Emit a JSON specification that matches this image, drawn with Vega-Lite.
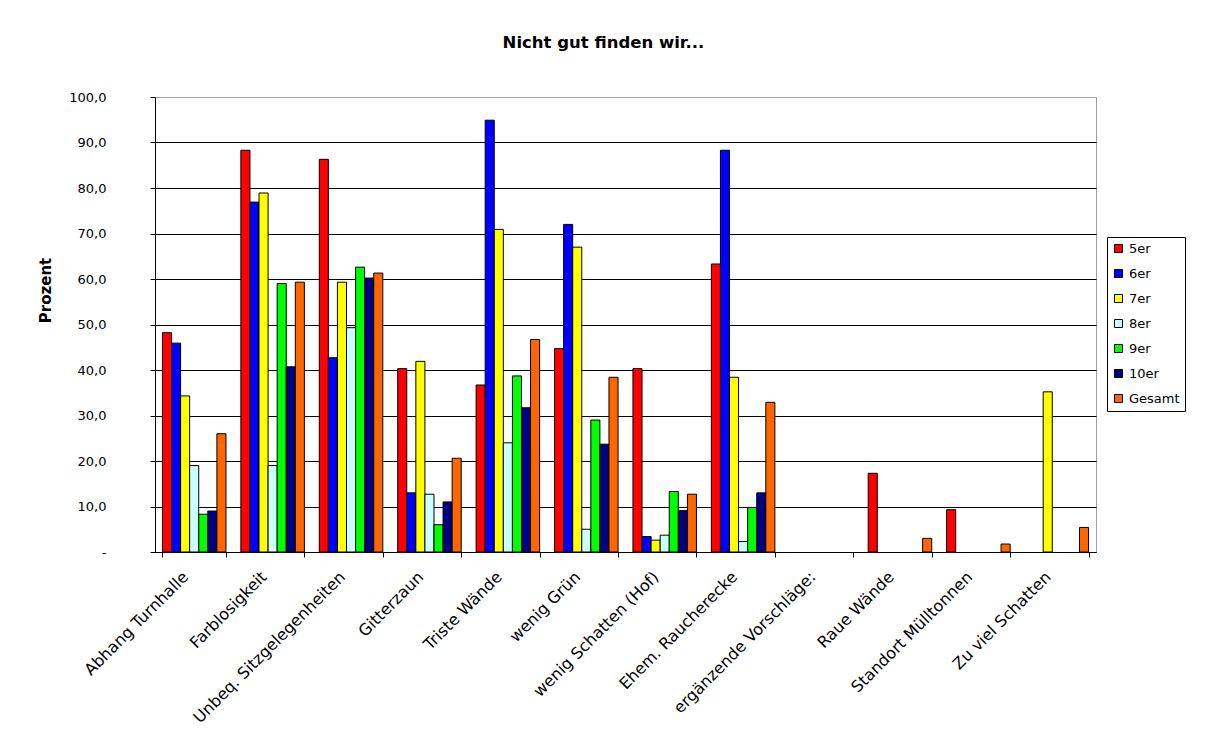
{
  "$schema": "https://vega.github.io/schema/vega-lite/v6.json",
  "width": 941,
  "height": 455,
  "autosize": "none",
  "padding": {"left": 155, "top": 97, "right": 109, "bottom": 181},
  "background": "white",
  "config": {
    "font": "DejaVu Sans",
    "view": {"stroke": "#a0a0a0", "strokeWidth": 1}
  },
  "title": {
    "text": "Nicht gut finden wir...",
    "font": "DejaVu Sans",
    "fontSize": 16.5,
    "fontWeight": "bold",
    "color": "black",
    "anchor": "middle",
    "dx": -22,
    "offset": 40
  },
  "data": {
    "values": [
      {"k": "Abhang Turnhalle", "s": "5er", "v": 48.2},
      {"k": "Abhang Turnhalle", "s": "6er", "v": 45.9},
      {"k": "Abhang Turnhalle", "s": "7er", "v": 34.3},
      {"k": "Abhang Turnhalle", "s": "8er", "v": 19.0},
      {"k": "Abhang Turnhalle", "s": "9er", "v": 8.3},
      {"k": "Abhang Turnhalle", "s": "10er", "v": 9.0},
      {"k": "Abhang Turnhalle", "s": "Gesamt", "v": 26.0},
      {"k": "Farblosigkeit", "s": "5er", "v": 88.3},
      {"k": "Farblosigkeit", "s": "6er", "v": 76.9},
      {"k": "Farblosigkeit", "s": "7er", "v": 78.9},
      {"k": "Farblosigkeit", "s": "8er", "v": 19.0},
      {"k": "Farblosigkeit", "s": "9er", "v": 59.0},
      {"k": "Farblosigkeit", "s": "10er", "v": 40.7},
      {"k": "Farblosigkeit", "s": "Gesamt", "v": 59.3},
      {"k": "Unbeq. Sitzgelegenheiten", "s": "5er", "v": 86.3},
      {"k": "Unbeq. Sitzgelegenheiten", "s": "6er", "v": 42.7},
      {"k": "Unbeq. Sitzgelegenheiten", "s": "7er", "v": 59.3},
      {"k": "Unbeq. Sitzgelegenheiten", "s": "8er", "v": 49.3},
      {"k": "Unbeq. Sitzgelegenheiten", "s": "9er", "v": 62.6},
      {"k": "Unbeq. Sitzgelegenheiten", "s": "10er", "v": 60.2},
      {"k": "Unbeq. Sitzgelegenheiten", "s": "Gesamt", "v": 61.3},
      {"k": "Gitterzaun", "s": "5er", "v": 40.3},
      {"k": "Gitterzaun", "s": "6er", "v": 13.0},
      {"k": "Gitterzaun", "s": "7er", "v": 41.9},
      {"k": "Gitterzaun", "s": "8er", "v": 12.7},
      {"k": "Gitterzaun", "s": "9er", "v": 6.0},
      {"k": "Gitterzaun", "s": "10er", "v": 11.0},
      {"k": "Gitterzaun", "s": "Gesamt", "v": 20.6},
      {"k": "Triste Wände", "s": "5er", "v": 36.7},
      {"k": "Triste Wände", "s": "6er", "v": 94.9},
      {"k": "Triste Wände", "s": "7er", "v": 70.9},
      {"k": "Triste Wände", "s": "8er", "v": 24.0},
      {"k": "Triste Wände", "s": "9er", "v": 38.7},
      {"k": "Triste Wände", "s": "10er", "v": 31.7},
      {"k": "Triste Wände", "s": "Gesamt", "v": 46.7},
      {"k": "wenig Grün", "s": "5er", "v": 44.7},
      {"k": "wenig Grün", "s": "6er", "v": 72.0},
      {"k": "wenig Grün", "s": "7er", "v": 67.0},
      {"k": "wenig Grün", "s": "8er", "v": 5.0},
      {"k": "wenig Grün", "s": "9er", "v": 29.0},
      {"k": "wenig Grün", "s": "10er", "v": 23.7},
      {"k": "wenig Grün", "s": "Gesamt", "v": 38.4},
      {"k": "wenig Schatten (Hof)", "s": "5er", "v": 40.3},
      {"k": "wenig Schatten (Hof)", "s": "6er", "v": 3.4},
      {"k": "wenig Schatten (Hof)", "s": "7er", "v": 2.6},
      {"k": "wenig Schatten (Hof)", "s": "8er", "v": 3.7},
      {"k": "wenig Schatten (Hof)", "s": "9er", "v": 13.3},
      {"k": "wenig Schatten (Hof)", "s": "10er", "v": 9.1},
      {"k": "wenig Schatten (Hof)", "s": "Gesamt", "v": 12.7},
      {"k": "Ehem. Raucherecke", "s": "5er", "v": 63.3},
      {"k": "Ehem. Raucherecke", "s": "6er", "v": 88.3},
      {"k": "Ehem. Raucherecke", "s": "7er", "v": 38.4},
      {"k": "Ehem. Raucherecke", "s": "8er", "v": 2.3},
      {"k": "Ehem. Raucherecke", "s": "9er", "v": 9.8},
      {"k": "Ehem. Raucherecke", "s": "10er", "v": 13.0},
      {"k": "Ehem. Raucherecke", "s": "Gesamt", "v": 32.9},
      {"k": "Raue Wände", "s": "5er", "v": 17.3},
      {"k": "Raue Wände", "s": "Gesamt", "v": 3.0},
      {"k": "Standort Mülltonnen", "s": "5er", "v": 9.3},
      {"k": "Standort Mülltonnen", "s": "Gesamt", "v": 1.75},
      {"k": "Zu viel Schatten", "s": "7er", "v": 35.2},
      {"k": "Zu viel Schatten", "s": "Gesamt", "v": 5.4}
    ]
  },
  "mark": {"type": "bar", "stroke": "black", "strokeWidth": 1, "opacity": 1},
  "encoding": {
    "x": {
      "field": "k",
      "type": "nominal",
      "sort": null,
      "scale": {
        "domain": ["Abhang Turnhalle", "Farblosigkeit", "Unbeq. Sitzgelegenheiten", "Gitterzaun", "Triste Wände", "wenig Grün", "wenig Schatten (Hof)", "Ehem. Raucherecke", "ergänzende Vorschläge:", "Raue Wände", "Standort Mülltonnen", "Zu viel Schatten"],
        "paddingInner": 0.19,
        "paddingOuter": 0.095
      },
      "axis": {
        "title": null,
        "labelAngle": -45,
        "labelAlign": "right",
        "labelBaseline": "middle",
        "labelFont": "DejaVu Sans",
        "labelFontSize": 16,
        "labelColor": "black",
        "labelPadding": 17,
        "labelOffset": -9,
        "labelLimit": 400,
        "labelOverlap": false,
        "labelFlush": false,
        "tickBand": "extent",
        "tickColor": "black",
        "tickSize": 5,
        "domainColor": "black",
        "grid": false
      }
    },
    "xOffset": {
      "field": "s",
      "type": "nominal",
      "sort": null,
      "scale": {"domain": ["5er", "6er", "7er", "8er", "9er", "10er", "Gesamt"], "paddingInner": 0, "paddingOuter": 0}
    },
    "y": {
      "field": "v",
      "type": "quantitative",
      "scale": {"domain": [0, 100], "nice": false},
      "axis": {
        "title": "Prozent",
        "titleFont": "DejaVu Sans",
        "titleFontSize": 15,
        "titleFontWeight": "bold",
        "titleColor": "black",
        "titleAngle": -90,
        "titleAlign": "center",
        "titleBaseline": "middle",
        "titleX": -110,
        "titleY": 193,
        "values": [0, 10, 20, 30, 40, 50, 60, 70, 80, 90, 100],
        "labelExpr": "datum.value == 0 ? '-' : replace(format(datum.value, '.1f'), '.', ',')",
        "labelFont": "DejaVu Sans",
        "labelFontSize": 13,
        "labelColor": "black",
        "labelPadding": 44,
        "tickSize": 5,
        "tickColor": "black",
        "domainColor": "black",
        "grid": true,
        "gridColor": {"condition": {"test": "datum.value === 100", "value": "#a0a0a0"}, "value": "black"},
        "gridOpacity": 1,
        "gridWidth": 1
      }
    },
    "color": {
      "field": "s",
      "type": "nominal",
      "sort": null,
      "scale": {
        "domain": ["5er", "6er", "7er", "8er", "9er", "10er", "Gesamt"],
        "range": ["#ff0000", "#0000ff", "#ffff00", "#ccffff", "#00ff00", "#000080", "#ff6600"]
      },
      "legend": {
        "title": null,
        "orient": "none",
        "legendX": 952,
        "legendY": 140,
        "symbolType": "square",
        "symbolSize": 64,
        "symbolStrokeColor": "black",
        "symbolStrokeWidth": 1,
        "symbolOpacity": 1,
        "labelFont": "DejaVu Sans",
        "labelFontSize": 13,
        "labelColor": "black",
        "labelOffset": 4,
        "strokeColor": "black",
        "fillColor": "white",
        "padding": 5,
        "rowPadding": 11
      }
    }
  }
}
